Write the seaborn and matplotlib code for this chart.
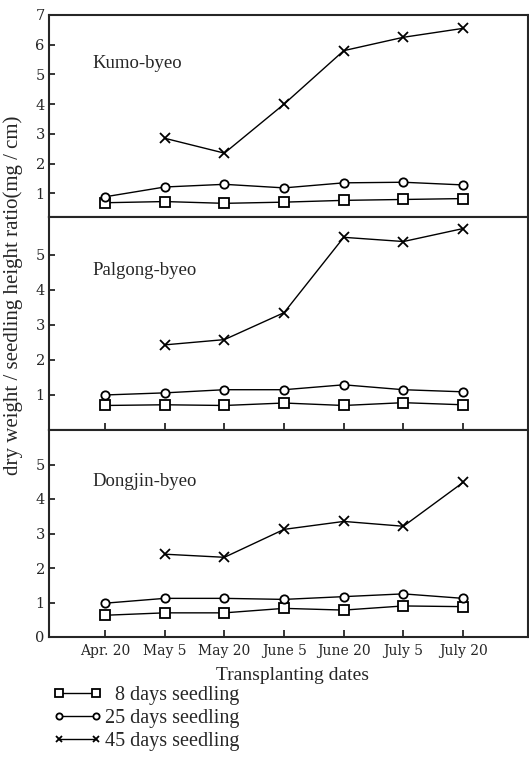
import numpy as np
import matplotlib
matplotlib.use("Agg")
import matplotlib.pyplot as plt
import seaborn as sns

# ---- data ----
dates = ["Apr. 20", "May 5", "May 20", "June 5", "June 20", "July 5", "July 20"]
varieties = ["Kumo-byeo", "Palgong-byeo", "Dongjin-byeo"]
series_labels = ["  8 days seedling", "25 days seedling", "45 days seedling"]

kumo_8 = [0.68, 0.72, 0.66, 0.70, 0.76, 0.79, 0.82]
kumo_25 = [0.88, 1.21, 1.30, 1.18, 1.35, 1.37, 1.28]
kumo_45 = [2.85, 2.35, 4.00, 5.80, 6.25, 6.55]          # May 5 .. July 20

palgong_8 = [0.70, 0.72, 0.70, 0.77, 0.70, 0.78, 0.72]
palgong_25 = [1.00, 1.06, 1.15, 1.15, 1.29, 1.15, 1.09]
palgong_45 = [2.43, 2.58, 3.35, 5.50, 5.38, 5.75]

dongjin_8 = [0.63, 0.70, 0.70, 0.83, 0.78, 0.90, 0.88]
dongjin_25 = [0.98, 1.12, 1.12, 1.09, 1.17, 1.25, 1.12]
dongjin_45 = [2.40, 2.31, 3.12, 3.35, 3.21, 4.48]

panel_data = [
    (kumo_8, kumo_25, kumo_45),
    (palgong_8, palgong_25, palgong_45),
    (dongjin_8, dongjin_25, dongjin_45),
]
ylims = [(0.2, 7.0), (0.0, 6.08), (0.0, 6.0)]
yticks = [[1, 2, 3, 4, 5, 6, 7], [1, 2, 3, 4, 5], [0, 1, 2, 3, 4, 5]]

# ---- style ----
sns.set_style("ticks")
plt.rcParams["font.family"] = ["Liberation Serif", "DejaVu Serif"]
plt.rcParams["axes.linewidth"] = 1.5

fig = plt.figure(figsize=(5.29, 7.59), dpi=100)
W, H = 529.0, 759.0
left = 49 / W
width = 527.5 / W - left
bounds = [(15, 217), (217, 430), (430, 637)]
label_y = [0.76, 0.75, 0.75]

x = np.arange(len(dates))
markers = ["s", "o", "x"]
msizes = [7.2, 6.0, 6.5]

axes = []
for i, ((y8, y25, y45), (ytop, ybot)) in enumerate(zip(panel_data, bounds)):
    ax = fig.add_axes([left, 1 - ybot / H, width, (ybot - ytop) / H])
    axes.append(ax)
    series = [(x, y8), (x, y25), (x[1:], y45)]
    for (xs, ys), mk, ms, lab in zip(series, markers, msizes, series_labels):
        sns.lineplot(x=xs, y=ys, ax=ax, color="black", linewidth=1.0,
                     marker=mk, markersize=ms, markerfacecolor="white",
                     markeredgecolor="black", markeredgewidth=1.3,
                     label=lab, legend=False)
    ax.set_xlim(-0.94, 7.08)
    ax.set_ylim(*ylims[i])
    ax.set_yticks(yticks[i])
    ax.set_yticklabels([str(t) for t in yticks[i]], fontsize=10.5,
                       family=["DejaVu Serif"])
    ax.tick_params(axis="y", direction="in", length=4, width=1.3, pad=3)
    ax.set_xticks(x)
    if i == 0:
        ax.tick_params(axis="x", length=0, labelbottom=False)
    elif i == 1:
        ax.tick_params(axis="x", direction="in", length=5, width=1.3,
                       labelbottom=False)
    else:
        ax.set_xticklabels(dates, fontsize=10, family=["DejaVu Serif"])
        ax.tick_params(axis="x", direction="in", length=5, width=1.3, pad=5)
    ax.text(0.09, label_y[i], varieties[i],
            transform=ax.transAxes, fontsize=13.5, ha="left", va="center")
    ax.set_xlabel("")
    ax.set_ylabel("")
    for s in ax.spines.values():
        s.set_visible(True)
        s.set_linewidth(1.5)

fig.text(13 / W, 1 - 295 / H, "dry weight / seedling height ratio(mg / cm)",
         rotation=90, ha="center", va="center", fontsize=15)
fig.text(293 / W, 1 - 676 / H, "Transplanting dates",
         ha="center", va="center", fontsize=14)

handles, labels = axes[0].get_legend_handles_labels()
fig.legend(handles, labels, loc="upper left",
           bbox_to_anchor=(53 / W, 1 - 686 / H), frameon=False,
           numpoints=2, handlelength=2.45, handletextpad=0.15,
           labelspacing=0.2, fontsize=14.5, markerscale=0.75,
           borderaxespad=0, borderpad=0)

fig.savefig("out.png", dpi=100)
